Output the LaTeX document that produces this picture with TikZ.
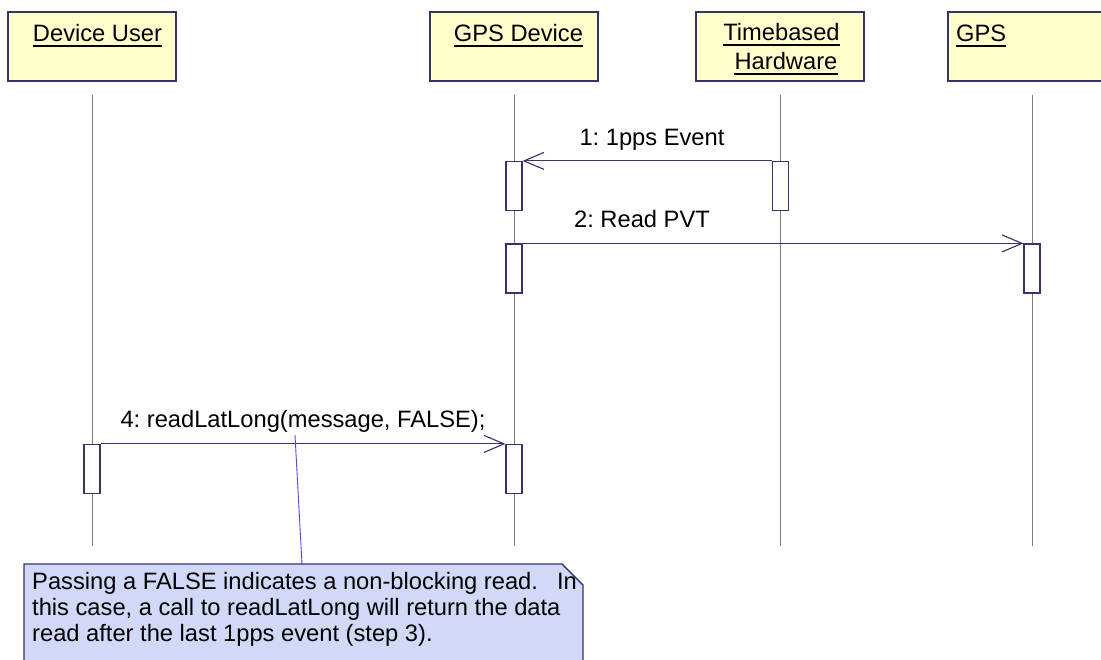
\documentclass[tikz,border=0pt]{standalone}
\usepackage{fontspec}
\setmainfont{Liberation Sans}
\usetikzlibrary{arrows.meta}
\frenchspacing
\definecolor{hdrfill}{HTML}{FFFFCC}
\definecolor{navy}{HTML}{33336E}
\definecolor{lifegray}{HTML}{7A7A7A}
\definecolor{notefill}{HTML}{D2D9F8}
\definecolor{noteline}{HTML}{4A4AF0}
\tikzset{
  hdr/.style={draw=navy, fill=hdrfill, line width=1.3pt, minimum width=168pt, minimum height=69pt, inner sep=0pt},
  lbl/.style={inner sep=0pt, anchor=base, font=\fontsize{23.7}{27}\selectfont},
  life/.style={draw=lifegray, line width=0.9pt},
  act/.style={draw=navy, fill=white, line width=1.2pt, minimum width=16pt, minimum height=49pt, inner sep=0pt},
  msg/.style={draw=navy, line width=1.1pt, -{Straight Barb[length=20pt,width=17pt,line width=1.1pt]}},
  ul/.style={draw=black, line width=1.3pt},
  notetxt/.style={inner sep=0pt, anchor=base west, font=\fontsize{23.7}{26}\selectfont}
}
\begin{document}
\begin{tikzpicture}[x=1pt,y=-1pt]
\clip (0,0) rectangle (1101,660);
\fill[white] (0,0) rectangle (1101,660);

% header boxes
\node[hdr] (duBox) at (92,46.5) {};
\node[hdr] (gdBox) at (514,46.5) {};
\node[hdr] (thBox) at (780,46.5) {};
\node[hdr] (gpsBox) at (1032,46.5) {};

% header labels
\node[lbl] (duT) at (97.5,42) {Device User};
\node[lbl] (gdT) at (518.5,42) {GPS Device};
\node[lbl] (thT1) at (781.5,41) {Timebased};
\node[lbl] (thT2) at (786,70) {Hardware};
\node[lbl, anchor=base west] (gpsT) at (956,42) {GPS};
\foreach \t in {duT,gdT,thT1,thT2,gpsT}
  \draw[ul] ([yshift=-4pt]\t.base west) -- ([yshift=-4pt]\t.base east);

% lifelines
\coordinate (duTop) at (92.5,95);   \coordinate (duBot) at (92.5,546);
\coordinate (gdTop) at (514,95);    \coordinate (gdBot) at (514,546);
\coordinate (thTop) at (780.5,95);  \coordinate (thBot) at (780.5,546);
\coordinate (gpsTop) at (1032,95);  \coordinate (gpsBot) at (1032,546);
\draw[life] (duTop) -- (duBot);
\draw[life] (gdTop) -- (gdBot);
\draw[life] (thTop) -- (thBot);
\draw[life] (gpsTop) -- (gpsBot);

% activations
\node[act] (g1) at (514,186) {};
\node[act] (t1) at (780.5,186) {};
\node[act] (g2) at (514,268.5) {};
\node[act] (p2) at (1032,268.5) {};
\node[act] (d4) at (92,469) {};
\node[act] (g4) at (514,469) {};

% messages
\draw[msg] (t1.north west) -- (g1.north east);
\node[lbl] (m1) at (652,146) {1: 1pps Event};
\draw[msg] (g2.north east) -- (p2.north west);
\node[lbl] (m2) at (642,228) {2: Read PVT};
\draw[msg] (d4.north east) -- (g4.north west);
\node[lbl] (m4) at (303,428) {4: readLatLong(message, FALSE);};

% note
\coordinate (noteAnchor) at (295,435);
\coordinate (noteTop) at (302,564);
\draw[noteline, line width=0.9pt] (noteAnchor) -- (noteTop);
\draw[navy, fill=notefill, line width=1.3pt]
  (24,672) -- (24,564) -- (562,564) -- (583,585) -- (583,672);
\draw[navy, line width=0.8pt] (562,564) -- (583,585);
\node[notetxt] (noteT1) at (32,589) {Passing a FALSE indicates a non-blocking read.\hspace{19pt}In};
\node[notetxt] (noteT2) at (32,615) {this case, a call to readLatLong will return the data};
\node[notetxt] (noteT3) at (32,641) {read after the last 1pps event (step 3).};
\end{tikzpicture}
\end{document}
